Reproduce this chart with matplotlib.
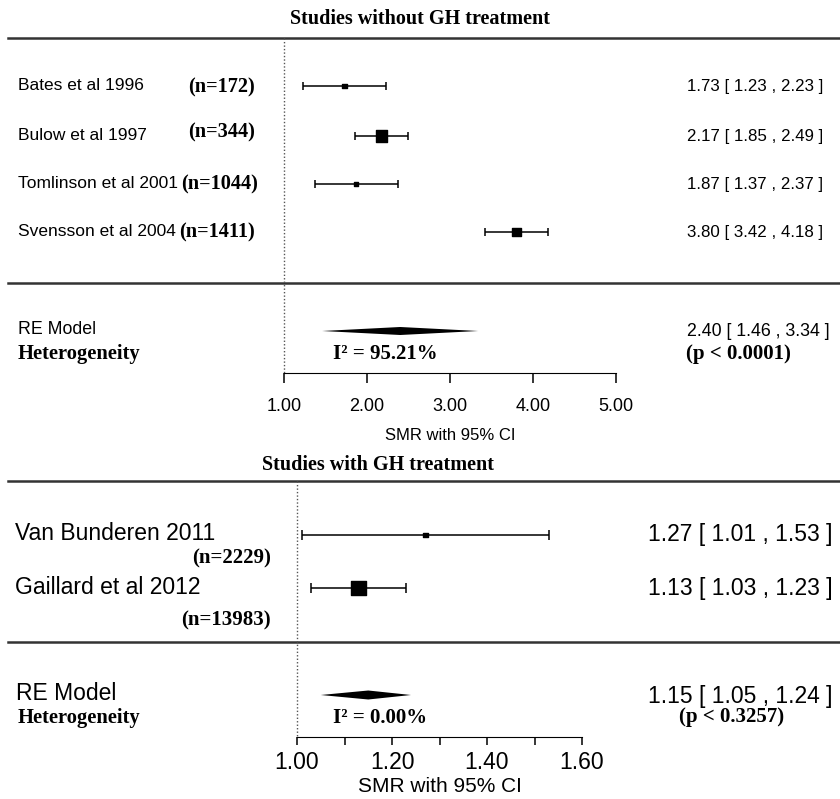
import matplotlib.pyplot as plt

# studies without GH treatment
studies_a = ["Bates et al 1996", "Bulow et al 1997", "Tomlinson et al 2001", "Svensson et al 2004"]
n_a = [172, 344, 1044, 1411]
smr_a = [1.73, 2.17, 1.87, 3.80]
lo_a = [1.23, 1.85, 1.37, 3.42]
hi_a = [2.23, 2.49, 2.37, 4.18]
re_a = [2.40, 1.46, 3.34]
i2_a = 95.21
p_a = "(p < 0.0001)"
ticks_a = [1.0, 2.0, 3.0, 4.0, 5.0]

# studies with GH treatment
studies_b = ["Van Bunderen 2011", "Gaillard et al 2012"]
n_b = [2229, 13983]
smr_b = [1.27, 1.13]
lo_b = [1.01, 1.03]
hi_b = [1.53, 1.23]
re_b = [1.15, 1.05, 1.24]
i2_b = 0.00
p_b = "(p < 0.3257)"
ticks_b = [1.0, 1.2, 1.4, 1.6]
minor_b = [1.1, 1.3, 1.5]

SANS = ["Liberation Sans", "DejaVu Sans"]
SERIF = ["Liberation Serif", "DejaVu Serif"]

W, H = 840, 799
fig = plt.figure(figsize=(W / 100, H / 100), dpi=100)


def fx(px):
    return px / W


def panel(ax, ylim, x0px, ppu, xmin_val):
    # map x so that value 1.00 lands on pixel x0px, ppu pixels per unit
    left = xmin_val - x0px / ppu
    ax.set_xlim(left, left + W / ppu)
    ax.set_ylim(*ylim)
    for s in ["top", "left", "right"]:
        ax.spines[s].set_visible(False)
    ax.set_yticks([])
    ax.patch.set_alpha(0)


def diamond(ax, est, lo, hi, y, h):
    ax.fill([lo, est, hi, est], [y, y - h, y, y + h], color="black", lw=0)


# ---------------- top panel ----------------
ax1 = fig.add_axes([0, 1 - 455 / H, 1, 455 / H])
panel(ax1, (455, 0), 284, 83, 1.0)
tr1 = ax1.get_yaxis_transform()

rows_a = [86, 136, 184, 232]
n_x = [188, 188, 181, 179]
n_dy = [1, -4, 0, 0]
sizes_a = [10, 64, 10, 36]

ax1.text(fx(420), 19, "Studies without GH treatment", transform=tr1, ha="center", va="center",
         family=SERIF, weight="bold", fontsize=14.5)
ax1.axhline(38, xmin=fx(8), xmax=1, color="#333333", lw=1.8)
ax1.axhline(283, xmin=fx(8), xmax=1, color="#333333", lw=1.8)
ax1.plot([1, 1], [38, 373], color="#555555", lw=1, ls=(0, (1, 1.5)))

lo_err = [m - l for m, l in zip(smr_a, lo_a)]
hi_err = [h - m for m, h in zip(smr_a, hi_a)]
ax1.errorbar(smr_a, rows_a, xerr=[lo_err, hi_err], fmt="none", ecolor="black", elinewidth=1.1,
             capsize=3, capthick=1.1)
ax1.scatter(smr_a, rows_a, marker="s", s=sizes_a, color="black", zorder=3)

for i, name in enumerate(studies_a):
    y = rows_a[i]
    ax1.text(fx(18), y, name, transform=tr1, va="center", family=SANS, fontsize=12.5)
    ax1.text(fx(n_x[i]), y + n_dy[i], "(n=%d)" % n_a[i], transform=tr1, va="center",
             family=SERIF, weight="bold", fontsize=14.6)
    ax1.text(fx(823), y, "%.2f [ %.2f , %.2f ]" % (smr_a[i], lo_a[i], hi_a[i]), transform=tr1,
             ha="right", va="center", family=SANS, fontsize=12.2)

diamond(ax1, re_a[0], re_a[1], re_a[2], 331, 4)
ax1.text(fx(18), 330, "RE Model", transform=tr1, va="center", family=SANS, fontsize=12.8)
ax1.text(fx(830), 331, "%.2f [ %.2f , %.2f ]" % tuple(re_a), transform=tr1, ha="right",
         va="center", family=SANS, fontsize=12.8)
ax1.text(fx(18), 354, "Heterogeneity", transform=tr1, va="center", family=SERIF,
         weight="bold", fontsize=14.8)
ax1.text(fx(333), 354, "I² = %.2f%%" % i2_a, transform=tr1, va="center", family=SERIF,
         weight="bold", fontsize=15)
ax1.text(fx(738), 354, p_a, transform=tr1, ha="center", va="center", family=SERIF,
         weight="bold", fontsize=15)

ax1.spines["bottom"].set_position(("data", 373))
ax1.spines["bottom"].set_bounds(ticks_a[0], ticks_a[-1])
ax1.set_xticks(ticks_a)
ax1.set_xticklabels(["%.2f" % t for t in ticks_a], family=SANS, fontsize=13)
ax1.tick_params(axis="x", direction="out", length=7, width=1.1, pad=11)
ax1.text(3.0, 436, "SMR with 95% CI", ha="center", va="center", family=SANS, fontsize=12)

# ---------------- bottom panel ----------------
ax2 = fig.add_axes([0, 0, 1, 344 / H])
panel(ax2, (799, 455), 297, 475, 1.0)
tr2 = ax2.get_yaxis_transform()

rows_b = [535, 588]
label_y = [533, 587]
nlab_y = [558, 620]
sizes_b = [12, 110]

ax2.text(fx(378), 465, "Studies with GH treatment", transform=tr2, ha="center", va="center",
         family=SERIF, weight="bold", fontsize=14.5)
ax2.axhline(481, xmin=fx(8), xmax=1, color="#333333", lw=1.8)
ax2.axhline(642, xmin=fx(8), xmax=1, color="#333333", lw=1.8)
ax2.plot([1, 1], [481, 737], color="#555555", lw=1, ls=(0, (1, 1.5)))

lo_err = [m - l for m, l in zip(smr_b, lo_b)]
hi_err = [h - m for m, h in zip(smr_b, hi_b)]
ax2.errorbar(smr_b, rows_b, xerr=[lo_err, hi_err], fmt="none", ecolor="black", elinewidth=1.1,
             capsize=3.5, capthick=1.1)
ax2.scatter(smr_b, rows_b, marker="s", s=sizes_b, color="black", zorder=3)

for i, name in enumerate(studies_b):
    ax2.text(fx(15), label_y[i], name, transform=tr2, va="center", family=SANS, fontsize=16.5)
    ax2.text(fx(271), nlab_y[i], "(n=%d)" % n_b[i], transform=tr2, ha="right", va="center",
             family=SERIF, weight="bold", fontsize=15)
    ax2.text(fx(833), rows_b[i], "%.2f [ %.2f , %.2f ]" % (smr_b[i], lo_b[i], hi_b[i]),
             transform=tr2, ha="right", va="center", family=SANS, fontsize=16.5)

diamond(ax2, re_b[0], re_b[1], re_b[2], 695, 4.5)
ax2.text(fx(16), 694, "RE Model", transform=tr2, va="center", family=SANS, fontsize=16.5)
ax2.text(fx(833), 696, "%.2f [ %.2f , %.2f ]" % tuple(re_b), transform=tr2, ha="right",
         va="center", family=SANS, fontsize=16.5)
ax2.text(fx(18), 718, "Heterogeneity", transform=tr2, va="center", family=SERIF,
         weight="bold", fontsize=14.8)
ax2.text(fx(333), 718, "I² = %.2f%%" % i2_b, transform=tr2, va="center", family=SERIF,
         weight="bold", fontsize=15)
ax2.text(fx(732), 717, p_b, transform=tr2, ha="center", va="center", family=SERIF,
         weight="bold", fontsize=15)

ax2.spines["bottom"].set_position(("data", 737))
ax2.spines["bottom"].set_bounds(ticks_b[0], ticks_b[-1])
ax2.set_xticks(ticks_b)
ax2.set_xticks(minor_b, minor=True)
ax2.set_xticklabels(["%.2f" % t for t in ticks_b], family=SANS, fontsize=16.5)
ax2.tick_params(axis="x", which="both", direction="out", length=6, width=1.1, pad=4)
ax2.text(1.30, 787, "SMR with 95% CI", ha="center", va="center", family=SANS, fontsize=15)

fig.savefig("out.png", dpi=100)
